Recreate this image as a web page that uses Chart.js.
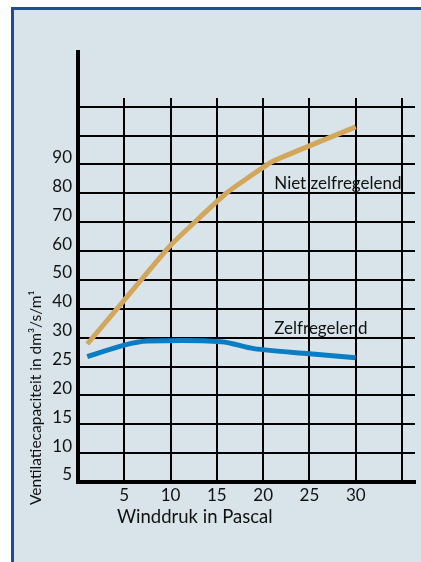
<!DOCTYPE html>
<html>
<head>
<meta charset="utf-8">
<script src="https://cdn.jsdelivr.net/npm/chart.js@4/dist/chart.umd.min.js"></script>
<style>
  body { margin:0; background:#fff; }
  #frame { position:absolute; left:11px; top:7px; width:520px; height:600px; background:#d8e4ea; border-left:3px solid #1f4a94; border-top:3px solid #1f4a94; }
  #myChart { position:absolute; left:0; top:0; }
</style>
</head>
<body>
<div id="frame"></div>
<canvas id="myChart" width="421" height="562"></canvas>
<script>
// y axis is not linear: even steps for 5..30, then 30..110 in steps of 10
var yLevels = [5, 10, 15, 20, 25, 30, 40, 50, 60, 70, 80, 90, 100, 110];
var yLabels = ['5', '10', '15', '20', '25', '30', '40', '50', '60', '70', '80', '90'];
var xLabels = ['5', '10', '15', '20', '25', '30'];

var nietX = [1, 5, 10, 16, 21, 30];
var nietY = [28.9, 43, 62, 80, 91, 103];

var zelfX = [1, 5, 7.5, 15.5, 19, 25, 30];
var zelfY = [26.7, 28.7, 29.4, 29.3, 28.1, 27.2, 26.5];

// value -> step on the y grid
function toStep(v) {
  for (var i = 0; i < yLevels.length - 1; i++) {
    if (v <= yLevels[i + 1]) {
      return i + (v - yLevels[i]) / (yLevels[i + 1] - yLevels[i]);
    }
  }
  return yLevels.length - 1;
}

function points(xs, ys) {
  var arr = [];
  for (var i = 0; i < xs.length; i++) {
    arr.push({ x: xs[i], y: toStep(ys[i]) });
  }
  return arr;
}

var fontName = 'Lato';
var txt = '#111';

var extras = {
  id: 'extras',
  afterDraw: function(chart) {
    var c = chart.ctx;
    var a = chart.chartArea;
    var xs = chart.scales.x;
    var ys = chart.scales.y;
    c.save();
    // y axis runs on above the grid
    c.strokeStyle = '#000';
    c.lineWidth = 4;
    c.beginPath();
    c.moveTo(a.left, a.top + 2);
    c.lineTo(a.left, a.top - 48);
    c.stroke();

    c.fillStyle = txt;
    c.font = '17px ' + fontName;
    c.textBaseline = 'middle';
    c.textAlign = 'left';
    c.fillText('Niet zelfregelend', xs.getPixelForValue(21.2), ys.getPixelForValue(toStep(83.5)));
    c.fillText('Zelfregelend', xs.getPixelForValue(21.2), ys.getPixelForValue(toStep(33)));

    c.font = '18.5px ' + fontName;
    c.fillText('Winddruk in Pascal', a.left + 39, a.bottom + 35);

    c.font = '15.5px ' + fontName;
    c.translate(a.left - 37, a.bottom + 23);
    c.rotate(-Math.PI / 2);
    c.textBaseline = 'alphabetic';
    c.fillText('Ventilatiecapaciteit in dm³/s/m¹', 0, 0);
    c.restore();
  }
};

var ctx = document.getElementById('myChart').getContext('2d');
var myChart = new Chart(ctx, {
  type: 'line',
  data: {
    datasets: [{
      label: 'Niet zelfregelend',
      data: points(nietX, nietY),
      borderColor: '#d3a75a',
      borderWidth: 5,
      pointRadius: 0,
      tension: 0.1
    }, {
      label: 'Zelfregelend',
      data: points(zelfX, zelfY),
      borderColor: '#0b7dc3',
      borderWidth: 5,
      pointRadius: 0,
      tension: 0.3
    }]
  },
  options: {
    responsive: false,
    animation: false,
    devicePixelRatio: 1,
    layout: { padding: { top: 98, right: 6, left: 0, bottom: 0 } },
    plugins: {
      legend: { display: false },
      tooltip: { enabled: false }
    },
    scales: {
      x: {
        type: 'linear',
        min: 0,
        max: 36.4,
        afterFit: function(s) { s.height = 80; },
        border: { color: '#000', width: 4 },
        grid: {
          color: function(c) { return c.tick && c.tick.value > 0 && c.tick.value <= 35 ? '#000' : 'rgba(0,0,0,0)'; },
          lineWidth: 2,
          drawTicks: false
        },
        ticks: {
          stepSize: 5,
          includeBounds: false,
          autoSkip: false,
          maxRotation: 0,
          padding: 3,
          color: txt,
          font: { family: fontName, size: 17 },
          callback: function(v) { return xLabels.indexOf(String(v)) >= 0 ? String(v) : ''; }
        }
      },
      y: {
        type: 'linear',
        min: 0,
        max: 13.3,
        afterFit: function(s) { s.width = 78; },
        border: { color: '#000', width: 4 },
        grid: {
          color: function(c) { return c.tick && c.tick.value > 0 && c.tick.value <= 13 ? '#000' : 'rgba(0,0,0,0)'; },
          lineWidth: 2,
          drawTicks: false
        },
        ticks: {
          stepSize: 1,
          includeBounds: false,
          autoSkip: false,
          padding: 6,
          labelOffset: -7,
          color: txt,
          font: { family: fontName, size: 17 },
          callback: function(v) { return yLabels[v] || ''; }
        }
      }
    }
  },
  plugins: [extras]
});
</script>
</body>
</html>
